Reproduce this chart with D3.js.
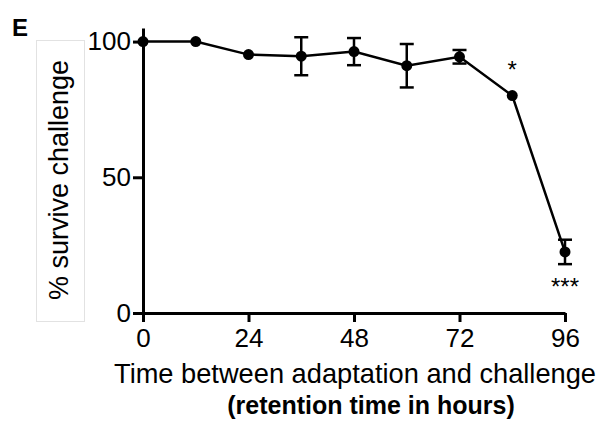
<!DOCTYPE html>
<html>
<head>
<meta charset="utf-8">
<script src="https://cdn.jsdelivr.net/npm/d3@7"></script>
<style>
  body { margin: 0; background: #fff; }
  svg { font-family: "Liberation Sans", Arial, sans-serif; }
</style>
</head>
<body>
<div id="chart"></div>
<script>
// retention time (hours) vs % surviving challenge
const hours = [0, 12, 24, 36, 48, 60, 72, 84, 96]
const survival = [100, 100, 95.2, 94.6, 96.3, 91.1, 94.4, 80.1, 22.5]
const errors = [0, 0, 0, 7, 5, 8, 2.5, 0, 4.5]
const stars = ["", "", "", "", "", "", "", "*", "***"]
const xTicks = [0, 24, 48, 72, 96]
const yTicks = [0, 50, 100]

;(function () {
    const W = 603, H = 435
    const margin = { top: 28, left: 143, right: 38, bottom: 122 }

    const svg = d3.select("#chart").append("svg")
        .attr("width", W).attr("height", H)

    const x = d3.scaleLinear().domain([0, 96]).range([margin.left, W - margin.right])
    const y = d3.scaleLinear().domain([0, 105]).range([H - margin.bottom, margin.top])

    // panel letter
    svg.append("text")
        .attr("x", 12).attr("y", 36)
        .attr("font-weight", "bold")
        .style("font-size", "24px")
        .text("E")

    // axes
    const xAxis = svg.append("g")
        .attr("transform", "translate(0," + y(0) + ")")
        .call(d3.axisBottom(x).tickValues(xTicks).tickSize(9).tickPadding(6).tickSizeOuter(0))
    const yAxis = svg.append("g")
        .attr("transform", "translate(" + x(0) + ",0)")
        .call(d3.axisLeft(y).tickValues(yTicks).tickSize(10).tickPadding(2).tickSizeOuter(0))

    ;[xAxis, yAxis].forEach(function (g) {
        g.select(".domain").attr("stroke", "#000").attr("stroke-width", 3)
        g.selectAll(".tick line").attr("stroke", "#000").attr("stroke-width", 3)
        g.selectAll(".tick text").attr("font-size", "26px").attr("fill", "#000")
            .attr("font-family", "Liberation Sans, Arial, sans-serif")
    })
    xAxis.selectAll(".tick text").attr("dy", "0.72em")

    // y label with a faint box around it
    svg.append("rect")
        .attr("x", 36.5).attr("y", 40.5).attr("width", 48).attr("height", 281)
        .attr("fill", "none").attr("stroke", "#e2e2e2").attr("stroke-width", 1)
    svg.append("text")
        .attr("transform", "translate(68,180) rotate(-90)")
        .attr("text-anchor", "middle")
        .attr("font-size", "27px")
        .text("% survive challenge")

    // x label, two lines
    svg.append("text")
        .attr("x", 355).attr("y", 383)
        .attr("text-anchor", "middle").attr("font-size", "27.5px")
        .attr("textLength", 482).attr("lengthAdjust", "spacingAndGlyphs")
        .text("Time between adaptation and challenge")
    svg.append("text")
        .attr("x", 371).attr("y", 414)
        .attr("text-anchor", "middle").attr("font-size", "25px").attr("font-weight", "bold")
        .text("(retention time in hours)")

    const pts = hours.map(function (h, i) {
        return { h: h, v: survival[i], e: errors[i], s: stars[i] }
    })

    // error bars
    const eb = svg.selectAll(".err").data(pts.filter(function (d) { return d.e > 0 }))
        .enter().append("g").attr("class", "err")
        .attr("stroke", "#000").attr("stroke-width", 2.5)
    eb.append("line")
        .attr("x1", function (d) { return x(d.h) }).attr("x2", function (d) { return x(d.h) })
        .attr("y1", function (d) { return y(d.v + d.e) }).attr("y2", function (d) { return y(d.v - d.e) })
    eb.append("line")
        .attr("x1", function (d) { return x(d.h) - 7 }).attr("x2", function (d) { return x(d.h) + 7 })
        .attr("y1", function (d) { return y(d.v + d.e) }).attr("y2", function (d) { return y(d.v + d.e) })
    eb.append("line")
        .attr("x1", function (d) { return x(d.h) - 7 }).attr("x2", function (d) { return x(d.h) + 7 })
        .attr("y1", function (d) { return y(d.v - d.e) }).attr("y2", function (d) { return y(d.v - d.e) })

    // line + markers
    const line = d3.line().x(function (d) { return x(d.h) }).y(function (d) { return y(d.v) })
    svg.append("path").datum(pts)
        .attr("d", line).attr("fill", "none")
        .attr("stroke", "#000").attr("stroke-width", 2.5)

    svg.selectAll(".dot").data(pts).enter().append("circle")
        .attr("class", "dot")
        .attr("cx", function (d) { return x(d.h) })
        .attr("cy", function (d) { return y(d.v) })
        .attr("r", 5.5).attr("fill", "#000")

    // significance stars: above for the 84h point, below for 96h
    svg.selectAll(".star").data(pts.filter(function (d) { return d.s })).enter().append("text")
        .attr("class", "star")
        .attr("x", function (d) { return x(d.h) })
        .attr("y", function (d) { return d.s === "*" ? y(d.v) - 18 : y(d.v - d.e) + 31 })
        .attr("text-anchor", "middle").attr("font-size", "24px")
        .text(function (d) { return d.s })
})()
</script>
</body>
</html>
